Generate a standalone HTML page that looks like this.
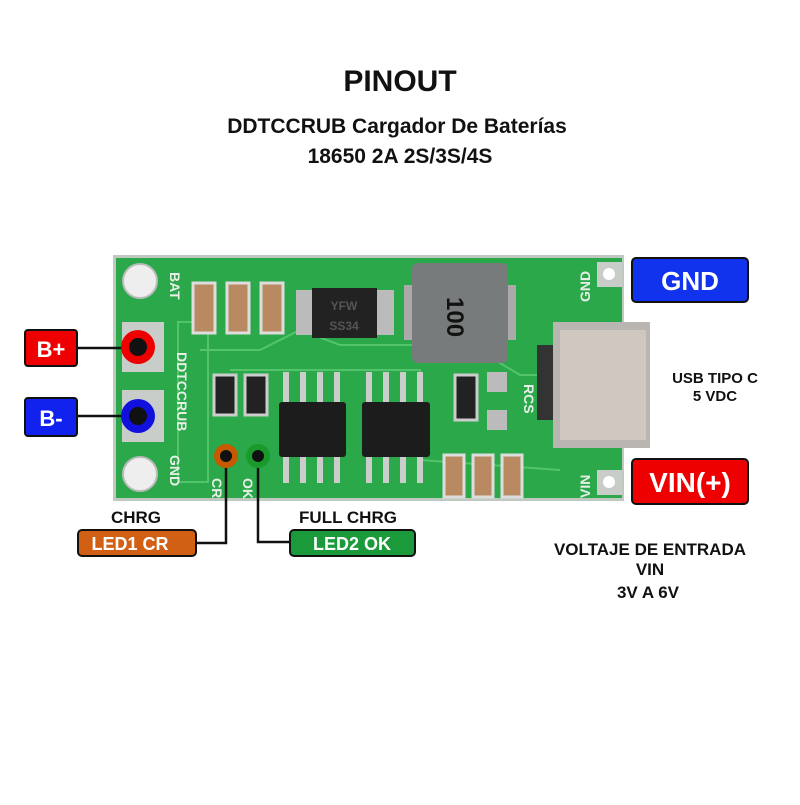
<!DOCTYPE html>
<html><head><meta charset="utf-8"><style>
body{margin:0;background:#fff;width:800px;height:800px;overflow:hidden;font-family:"Liberation Sans",sans-serif}
</style></head><body>
<svg width="800" height="800" viewBox="0 0 800 800" xmlns="http://www.w3.org/2000/svg" font-family="Liberation Sans, sans-serif" font-weight="bold">
<text x="400" y="91" text-anchor="middle" font-size="30" fill="#111">PINOUT</text>
<text x="397" y="133" text-anchor="middle" font-size="21" fill="#111">DDTCCRUB Cargador De Baterías</text>
<text x="400" y="163" text-anchor="middle" font-size="21" fill="#111">18650 2A 2S/3S/4S</text>

<!-- board -->
<rect x="113" y="255" width="511" height="246" fill="#bfc9c0"/>
<rect x="116" y="258" width="506" height="240" fill="#2aa84a"/>
<g fill="none" stroke="#54c46c" stroke-width="2">
<polyline points="200,350 260,350 300,330 340,345 470,345 520,375 560,375"/>
<polyline points="230,370 420,370 420,460 560,470"/>
<rect x="178" y="322" width="30" height="160"/>
</g>
<!-- holes -->
<circle cx="140" cy="281" r="17" fill="#eee" stroke="#bbb" stroke-width="2"/>
<circle cx="140" cy="474" r="17" fill="#eee" stroke="#bbb" stroke-width="2"/>
<rect x="122" y="322" width="42" height="50" fill="#c9cdc9"/>
<rect x="122" y="390" width="42" height="52" fill="#c9cdc9"/>
<rect x="597" y="262" width="25" height="25" fill="#c9cdc9"/>
<circle cx="609" cy="274" r="6" fill="#fff"/>
<rect x="597" y="470" width="25" height="25" fill="#c9cdc9"/>
<circle cx="609" cy="482" r="6" fill="#fff"/>
<!-- silkscreen -->
<g fill="#e8efe8" font-size="14">
<text transform="translate(170,272) rotate(90)">BAT</text>
<text transform="translate(170,455) rotate(90)">GND</text>
<text transform="translate(177,352) rotate(90)">DDTCCRUB</text>
<text transform="translate(524,384) rotate(90)">RCS</text>
<text transform="translate(590,302) rotate(-90)">GND</text>
<text transform="translate(590,498) rotate(-90)">VIN</text>
<text transform="translate(212,478) rotate(90)">CR</text>
<text transform="translate(243,478) rotate(90)">OK</text>
</g>
<!-- caps -->
<g fill="#b98a62" stroke="#ddd" stroke-width="3">
<rect x="193" y="283" width="22" height="50"/><rect x="227" y="283" width="22" height="50"/><rect x="261" y="283" width="22" height="50"/>
<rect x="444" y="455" width="20" height="42"/><rect x="473" y="455" width="20" height="42"/><rect x="502" y="455" width="20" height="42"/>
</g>
<!-- diode -->
<rect x="296" y="290" width="98" height="45" fill="#bbb"/>
<rect x="312" y="288" width="65" height="50" fill="#222"/>
<text x="344" y="310" text-anchor="middle" font-size="12" fill="#555">YFW</text>
<text x="344" y="330" text-anchor="middle" font-size="12" fill="#555">SS34</text>
<!-- inductor -->
<rect x="404" y="285" width="112" height="55" fill="#aaa"/>
<rect x="412" y="263" width="96" height="100" rx="6" fill="#777b7c"/>
<text transform="translate(447,297) rotate(90)" font-size="24" fill="#111">100</text>
<!-- resistors -->
<rect x="214" y="375" width="22" height="40" fill="#222" stroke="#ccc" stroke-width="3"/>
<rect x="245" y="375" width="22" height="40" fill="#222" stroke="#ccc" stroke-width="3"/>
<rect x="455" y="375" width="22" height="45" fill="#222" stroke="#ccc" stroke-width="3"/>
<rect x="487" y="372" width="20" height="20" fill="#bbb"/><rect x="487" y="410" width="20" height="20" fill="#bbb"/>
<!-- ICs -->
<g fill="#ccc">
<rect x="283" y="372" width="6" height="30"/><rect x="300" y="372" width="6" height="30"/><rect x="317" y="372" width="6" height="30"/><rect x="334" y="372" width="6" height="30"/>
<rect x="283" y="455" width="6" height="28"/><rect x="300" y="455" width="6" height="28"/><rect x="317" y="455" width="6" height="28"/><rect x="334" y="455" width="6" height="28"/>
<rect x="366" y="372" width="6" height="30"/><rect x="383" y="372" width="6" height="30"/><rect x="400" y="372" width="6" height="30"/><rect x="417" y="372" width="6" height="30"/>
<rect x="366" y="455" width="6" height="28"/><rect x="383" y="455" width="6" height="28"/><rect x="400" y="455" width="6" height="28"/><rect x="417" y="455" width="6" height="28"/>
</g>
<rect x="279" y="402" width="67" height="55" rx="3" fill="#1c1c1c"/>
<rect x="362" y="402" width="68" height="55" rx="3" fill="#1c1c1c"/>
<!-- usb -->
<rect x="537" y="345" width="25" height="75" fill="#333"/>
<rect x="553" y="322" width="97" height="126" fill="#b9b5b0"/>
<rect x="560" y="330" width="86" height="110" fill="#d0c8c0"/>
<text x="715" y="383" text-anchor="middle" font-size="15" fill="#111">USB TIPO C</text>
<text x="715" y="401" text-anchor="middle" font-size="15" fill="#111">5 VDC</text>

<!-- labels -->
<rect x="632" y="258" width="116" height="44" rx="4" fill="#1133ee" stroke="#111" stroke-width="2"/>
<text x="690" y="290" text-anchor="middle" font-size="26" fill="#fff">GND</text>
<rect x="632" y="459" width="116" height="45" rx="4" fill="#e00" stroke="#111" stroke-width="2"/>
<text x="690" y="492" text-anchor="middle" font-size="28" fill="#fff">VIN(+)</text>

<line x1="77" y1="348" x2="138" y2="348" stroke="#111" stroke-width="2.5"/>
<line x1="77" y1="416" x2="138" y2="416" stroke="#111" stroke-width="2.5"/>
<rect x="25" y="330" width="52" height="36" rx="3" fill="#e00" stroke="#111" stroke-width="2"/>
<text x="51" y="357" text-anchor="middle" font-size="22" fill="#fff">B+</text>
<rect x="25" y="398" width="52" height="38" rx="3" fill="#1122ee" stroke="#111" stroke-width="2"/>
<text x="51" y="426" text-anchor="middle" font-size="22" fill="#fff">B-</text>
<circle cx="138" cy="347" r="17" fill="#e00"/><circle cx="138" cy="347" r="9" fill="#111"/>
<circle cx="138" cy="416" r="17" fill="#11d"/><circle cx="138" cy="416" r="9" fill="#111"/>

<polyline points="226,456 226,543 196,543" fill="none" stroke="#111" stroke-width="2.5"/>
<polyline points="258,456 258,542 290,542" fill="none" stroke="#111" stroke-width="2.5"/>
<circle cx="226" cy="456" r="12" fill="#c55a00"/><circle cx="226" cy="456" r="6" fill="#111"/>
<circle cx="258" cy="456" r="12" fill="#1a9a2a"/><circle cx="258" cy="456" r="6" fill="#111"/>
<text x="136" y="523" text-anchor="middle" font-size="17" fill="#111">CHRG</text>
<rect x="78" y="530" width="118" height="26" rx="4" fill="#d26014" stroke="#111" stroke-width="2"/>
<text x="130" y="550" text-anchor="middle" font-size="18" fill="#fff">LED1 CR</text>
<text x="348" y="523" text-anchor="middle" font-size="17" fill="#111">FULL CHRG</text>
<rect x="290" y="530" width="125" height="26" rx="4" fill="#1a9a3a" stroke="#111" stroke-width="2"/>
<text x="352" y="550" text-anchor="middle" font-size="18" fill="#fff">LED2 OK</text>

<text x="650" y="555" text-anchor="middle" font-size="17" fill="#111">VOLTAJE DE ENTRADA</text>
<text x="650" y="575" text-anchor="middle" font-size="17" fill="#111">VIN</text>
<text x="648" y="598" text-anchor="middle" font-size="17" fill="#111">3V A 6V</text>
</svg>
</body></html>
